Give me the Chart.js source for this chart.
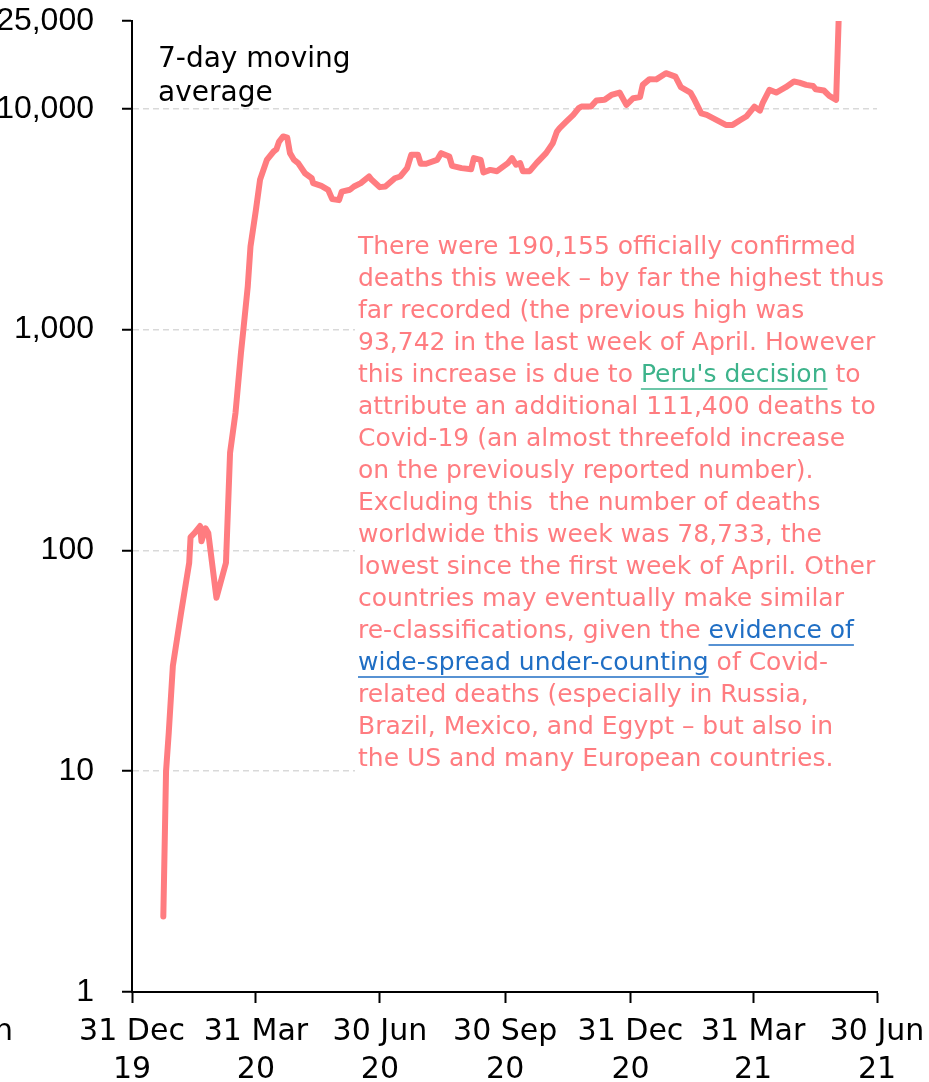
<!DOCTYPE html>
<html>
<head>
<meta charset="utf-8">
<script src="https://cdn.jsdelivr.net/npm/chart.js@4.4.1/dist/chart.umd.min.js"></script>
<style>
  html, body { margin: 0; padding: 0; background: #fff; overflow: hidden; }
  #wrap { width: 929px; height: 1120px; }
</style>
</head>
<body>
<div id="wrap"><canvas id="chart" width="929" height="1120"></canvas></div>
<script>
// 7-day moving average of daily deaths
const dates = [
  '2020-01-23', '2020-01-25', '2020-01-27', '2020-01-30', '2020-02-05', '2020-02-11', '2020-02-12', '2020-02-15',
  '2020-02-19', '2020-02-20', '2020-02-23', '2020-02-25', '2020-03-02', '2020-03-09', '2020-03-12', '2020-03-16',
  '2020-03-20', '2020-03-22', '2020-03-25', '2020-03-27', '2020-03-31', '2020-04-03', '2020-04-08', '2020-04-13',
  '2020-04-15', '2020-04-17', '2020-04-20', '2020-04-23', '2020-04-25', '2020-04-28', '2020-05-01', '2020-05-06',
  '2020-05-11', '2020-05-12', '2020-05-18', '2020-05-23', '2020-05-26', '2020-05-31', '2020-06-02', '2020-06-08',
  '2020-06-11', '2020-06-16', '2020-06-22', '2020-06-24', '2020-06-30', '2020-07-04', '2020-07-11', '2020-07-15',
  '2020-07-20', '2020-07-23', '2020-07-28', '2020-07-30', '2020-08-03', '2020-08-11', '2020-08-14', '2020-08-20',
  '2020-08-22', '2020-08-29', '2020-09-05', '2020-09-07', '2020-09-12', '2020-09-14', '2020-09-19', '2020-09-24',
  '2020-09-27', '2020-10-02', '2020-10-05', '2020-10-08', '2020-10-11', '2020-10-13', '2020-10-18', '2020-10-23',
  '2020-10-30', '2020-11-04', '2020-11-07', '2020-11-09', '2020-11-14', '2020-11-19', '2020-11-23', '2020-11-25',
  '2020-12-02', '2020-12-06', '2020-12-12', '2020-12-17', '2020-12-23', '2020-12-28', '2021-01-02', '2021-01-07',
  '2021-01-09', '2021-01-14', '2021-01-19', '2021-01-26', '2021-02-02', '2021-02-06', '2021-02-13', '2021-02-16',
  '2021-02-21', '2021-02-25', '2021-03-04', '2021-03-11', '2021-03-16', '2021-03-22', '2021-03-26', '2021-04-01',
  '2021-04-05', '2021-04-07', '2021-04-12', '2021-04-17', '2021-04-24', '2021-04-30', '2021-05-04', '2021-05-09',
  '2021-05-14', '2021-05-16', '2021-05-22', '2021-05-26', '2021-05-31', '2021-06-02'
];
const deaths = [
  2.2, 10, 15, 30, 52, 88, 115, 120,
  129, 110, 126, 120, 61, 88, 277, 420,
  785, 1030, 1570, 2380, 3490, 4770, 5870, 6410,
  6550, 7110, 7500, 7400, 6300, 5870, 5680, 5110,
  4850, 4610, 4480, 4300, 3900, 3860, 4220, 4300,
  4450, 4610, 4940, 4770, 4420, 4450, 4850, 4940,
  5390, 6190, 6190, 5640, 5640, 5870, 6300, 6080,
  5520, 5390, 5330, 5980, 5870, 5150, 5290, 5220,
  5390, 5680, 5980, 5580, 5680, 5220, 5220, 5680,
  6300, 7000, 7890, 8180, 8770, 9390, 10080, 10240,
  10240, 10910, 10990, 11560, 11860, 10420, 11180, 11300,
  12840, 13630, 13600, 14510, 14000, 12530, 11860, 10990,
  9550, 9390, 8920, 8460, 8460, 8920, 9230, 10240,
  9820, 10610, 12190, 11860, 12530, 13300, 13150, 12840,
  12700, 12270, 12110, 11450, 10990, 27165
];

const xTickDates = ['2019-12-31', '2020-03-31', '2020-06-30', '2020-09-30', '2020-12-31', '2021-03-31', '2021-06-30'];
const xTickLabels = [['31 Dec', '19'], ['31 Mar', '20'], ['30 Jun', '20'], ['30 Sep', '20'], ['31 Dec', '20'], ['31 Mar', '21'], ['30 Jun', '21']];
const yTicks = [1, 10, 100, 1000, 10000, 25000];
const yGridValues = [10, 100, 1000, 10000];

const seriesLabel = ['7-day moving', 'average'];
const linkGreen = '#3DB38B';
const linkBlue = '#1F6EC4';
// note lines, each a list of [text, colour or null, underline]
const noteLines = [
  [['There were 190,155 officially confirmed']],
  [['deaths this week \u2013 by far the highest thus']],
  [['far recorded (the previous high was']],
  [['93,742 in the last week of April. However']],
  [['this increase is due to '], ["Peru's decision", linkGreen, true], [' to']],
  [['attribute an additional 111,400 deaths to']],
  [['Covid-19 (an almost threefold increase']],
  [['on the previously reported number).']],
  [['Excluding this  the number of deaths']],
  [['worldwide this week was 78,733, the']],
  [['lowest since the first week of April. Other']],
  [['countries may eventually make similar']],
  [['re-classifications, given the '], ['evidence of', linkBlue, true]],
  [['wide-spread under-counting', linkBlue, true], [' of Covid-']],
  [['related deaths (especially in Russia,']],
  [['Brazil, Mexico, and Egypt \u2013 but also in']],
  [['the US and many European countries.']]
];

const lineColor = '#FF7C80';
const font = 'DejaVu Sans';

function dayNum(s) {
  return (Date.parse(s) - Date.parse('2019-12-31')) / 86400000;
}

const notesPlugin = {
  id: 'notes',
  afterDraw(chart) {
    const c = chart.ctx;
    c.save();
    // series label
    c.fillStyle = '#000';
    c.font = '28px "' + font + '"';
    c.textBaseline = 'alphabetic';
    c.textAlign = 'left';
    c.fillText(seriesLabel[0], 158, 67);
    c.fillText(seriesLabel[1], 158, 101);

    // clipped axis caption at the far left
    c.font = '30px "' + font + '"';
    c.textAlign = 'right';
    c.textBaseline = 'middle';
    c.fillText('n', 13, 1032);

    // white box behind the note
    c.fillStyle = '#fff';
    c.fillRect(355, 228, 545, 556);

    c.font = '25px "' + font + '"';
    c.textAlign = 'left';
    c.textBaseline = 'middle';
    noteLines.forEach((segs, i) => {
      let x = 358;
      const y = 247 + i * 32;
      segs.forEach(seg => {
        const w = c.measureText(seg[0]).width;
        c.fillStyle = seg[1] || lineColor;
        c.fillText(seg[0], x, y);
        if (seg[2]) {
          c.strokeStyle = seg[1];
          c.lineWidth = 1.5;
          c.beginPath();
          c.moveTo(x, y + 14);
          c.lineTo(x + w, y + 14);
          c.stroke();
        }
        x += w;
      });
    });
    c.restore();
  }
};

const ctx = document.getElementById('chart').getContext('2d');
new Chart(ctx, {
  type: 'line',
  data: {
    datasets: [{
      data: dates.map((d, i) => ({ x: dayNum(d), y: deaths[i] })),
      borderColor: lineColor,
      borderWidth: 6,
      pointRadius: 0,
      tension: 0,
      borderJoinStyle: 'round',
      borderCapStyle: 'round'
    }]
  },
  options: {
    responsive: false,
    animation: false,
    devicePixelRatio: 1,
    layout: { padding: { top: 21, right: 52, left: 0, bottom: 0 } },
    plugins: { legend: { display: false }, tooltip: { enabled: false } },
    scales: {
      x: {
        type: 'linear',
        min: 0,
        max: dayNum('2021-06-30'),
        afterBuildTicks: scale => { scale.ticks = xTickDates.map(d => ({ value: dayNum(d) })); },
        afterFit: scale => {
          scale.height = 128;
          scale.paddingLeft = 0;
          scale.paddingRight = 0;
        },
        ticks: {
          autoSkip: false,
          maxRotation: 0,
          padding: 10,
          color: '#000',
          font: { family: font, size: 30, lineHeight: 1.27 },
          callback: (v, i) => xTickLabels[i]
        },
        grid: { drawOnChartArea: false, tickColor: '#000', tickLength: 11, tickWidth: 2 },
        border: { color: '#000', width: 2 }
      },
      y: {
        type: 'logarithmic',
        min: 1,
        max: 25000,
        afterBuildTicks: scale => { scale.ticks = yTicks.map(v => ({ value: v })); },
        afterFit: scale => {
          scale.width = 132;
          scale.paddingTop = 0;
          scale.paddingBottom = 0;
        },
        ticks: {
          padding: 28,
          color: '#000',
          font: { family: 'Liberation Sans', size: 32 },
          callback: v => v.toLocaleString('en-US')
        },
        grid: {
          color: c => yGridValues.includes(c.tick && c.tick.value) ? '#d9d9d9' : 'rgba(0,0,0,0)',
          lineWidth: 1.5,
          tickColor: '#000',
          tickLength: 10,
          tickWidth: 2
        },
        border: { color: '#000', width: 2, dash: [6, 4] }
      }
    }
  },
  plugins: [notesPlugin]
});
</script>
</body>
</html>
